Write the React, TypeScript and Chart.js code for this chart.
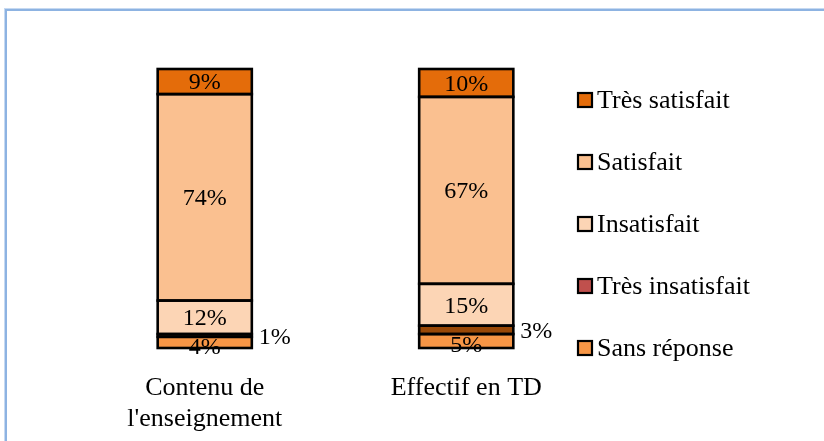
import React, { useEffect, useRef } from "react";
import { Chart, registerables } from "chart.js";

Chart.register(...registerables);

const categories: (string | string[])[] = [["Contenu de", "l'enseignement"], "Effectif en TD"];
const seriesNames = ["Sans réponse", "Très insatisfait", "Insatisfait", "Satisfait", "Très satisfait"];
const sansReponse = [4, 5];
const tresInsatisfait = [1, 3];
const insatisfait = [12, 15];
const satisfait = [74, 67];
const tresSatisfait = [9, 10];

const barColors = ["#F79646", "#984807", "#FCD5B5", "#FAC090", "#E46C0A"];
const legendColors = ["#F79646", "#C0504D", "#FCD5B5", "#FAC090", "#E46C0A"];
const labelPlacement = ["low", "right", "center", "center", "center"];

const FONT = "'Liberation Serif', 'Times New Roman', serif";

const outlineAndLabels = {
  id: "segOutlineLabels",
  afterDatasetsDraw(chart: any) {
    const ctx = chart.ctx;
    ctx.save();
    // centered outlines like the original (Excel-style)
    ctx.strokeStyle = "#000";
    ctx.lineWidth = 2.6;
    chart.data.datasets.forEach((ds: any, di: number) => {
      const meta = chart.getDatasetMeta(di);
      meta.data.forEach((el: any) => {
        const left = el.x - el.width / 2;
        const top = Math.min(el.y, el.base);
        const h = Math.abs(el.base - el.y);
        ctx.strokeRect(left, top, el.width, h);
      });
    });
    ctx.font = `24px ${FONT}`;
    ctx.fillStyle = "#000";
    ctx.textBaseline = "middle";
    chart.data.datasets.forEach((ds: any, di: number) => {
      const meta = chart.getDatasetMeta(di);
      meta.data.forEach((el: any, i: number) => {
        const v = ds.data[i];
        const txt = `${v}%`;
        const cy = (el.y + el.base) / 2;
        const place = labelPlacement[di];
        if (place === "right") {
          ctx.textAlign = "left";
          ctx.fillText(txt, el.x + el.width / 2 + 7, cy + 2);
        } else if (place === "low") {
          ctx.textAlign = "center";
          ctx.fillText(txt, el.x, cy + 5);
        } else {
          ctx.textAlign = "center";
          ctx.fillText(txt, el.x, cy + 1.5);
        }
      });
    });
    ctx.restore();
  },
};

const legendPlugin = {
  id: "customLegend",
  afterDraw(chart: any) {
    const ctx = chart.ctx;
    ctx.save();
    ctx.font = `26px ${FONT}`;
    ctx.textBaseline = "middle";
    ctx.textAlign = "left";
    const n = chart.data.datasets.length;
    const x0 = 578;
    const y0 = 100;
    const step = 62;
    for (let k = 0; k < n; k++) {
      const di = n - 1 - k;
      const y = y0 + k * step;
      ctx.fillStyle = legendColors[di];
      ctx.fillRect(x0, y - 7, 14, 14);
      ctx.strokeStyle = "#000";
      ctx.lineWidth = 2.2;
      ctx.strokeRect(x0, y - 7, 14, 14);
      ctx.fillStyle = "#000";
      ctx.fillText(chart.data.datasets[di].label, x0 + 19, y + 1);
    }
    ctx.restore();
  },
};

export default function App() {
  const ref = useRef<HTMLCanvasElement>(null);
  useEffect(() => {
    if (!ref.current) return;
    const series = [sansReponse, tresInsatisfait, insatisfait, satisfait, tresSatisfait];
    const chart = new Chart(ref.current, {
      type: "bar",
      data: {
        labels: categories,
        datasets: series.map((d, i) => ({
          label: seriesNames[i],
          data: d,
          backgroundColor: barColors[i],
          borderWidth: 0,
          barPercentage: 0.36,
          categoryPercentage: 1,
        })),
      },
      options: {
        animation: false,
        responsive: true,
        maintainAspectRatio: false,
        layout: { padding: { left: 74, right: 227, top: 69, bottom: 9 } },
        plugins: { legend: { display: false }, tooltip: { enabled: false } },
        scales: {
          x: {
            stacked: true,
            grid: { display: false, drawTicks: false },
            border: { display: false },
            afterFit(scale: any) {
              scale.height = 84;
            },
            ticks: {
              color: "#000",
              padding: 24.5,
              maxRotation: 0,
              font: { family: FONT, size: 26, lineHeight: 1.2 },
            },
          },
          y: {
            stacked: true,
            display: false,
            min: 0,
            max: 100,
          },
        },
      },
      plugins: [outlineAndLabels, legendPlugin],
    });
    return () => chart.destroy();
  }, []);
  return (
    <div style={{ position: "fixed", left: 0, top: 0, width: 824, height: 441, background: "#fff", overflow: "hidden" }}>
      <div
        style={{
          position: "absolute",
          left: 5,
          top: 9,
          width: 900,
          height: 500,
          borderLeft: "2px solid #8DB3E2",
          borderTop: "2px solid #8DB3E2",
          boxShadow: "-1px -1px 0 #C6D9F1",
        }}
      />
      <div style={{ position: "absolute", left: 0, top: 0, width: 824, height: 441 }}>
        <canvas ref={ref} />
      </div>
    </div>
  );
}
